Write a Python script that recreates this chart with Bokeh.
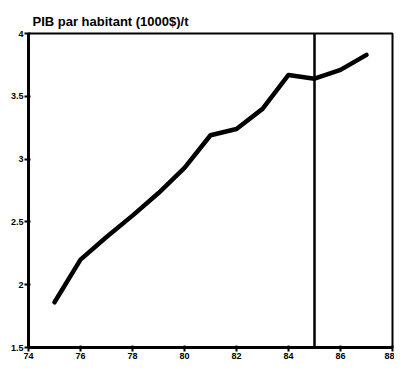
from bokeh.plotting import figure
from bokeh.models import Span, Range1d, FixedTicker
from bokeh.embed import file_html
from bokeh.resources import INLINE

years = [75, 76, 77, 78, 79, 80, 81, 82, 83, 84, 85, 86, 87]
pib = [1.86, 2.20, 2.38, 2.55, 2.73, 2.93, 3.19, 3.24, 3.40, 3.67, 3.64, 3.71, 3.83]
x_ticks = [74, 76, 78, 80, 82, 84, 86, 88]
y_ticks = [1.5, 2, 2.5, 3, 3.5, 4]
marker_year = 85
title_text = "PIB par habitant (1000$)/t"

p = figure(output_backend="svg", toolbar_location=None,
           frame_width=364, frame_height=314,
           x_range=Range1d(74, 88), y_range=Range1d(1.5, 4),
           min_border_left=28, min_border_right=2, min_border_top=33,
           min_border_bottom=14, title=title_text)

p.title.text_font = "Liberation Sans"
p.title.text_font_size = "13px"
p.title.text_font_style = "bold"
p.title.text_color = "black"
p.title.offset = 4
p.title.standoff = 10

p.line(years, pib, line_width=4.5, line_color="black", line_join="round", line_cap="round")
p.add_layout(Span(location=marker_year, dimension="height", line_color="black", line_width=2.5))

p.grid.visible = False
p.outline_line_color = "black"
p.outline_line_width = 2
p.background_fill_color = "white"
p.border_fill_color = "white"

p.xaxis.ticker = FixedTicker(ticks=x_ticks)
p.yaxis.ticker = FixedTicker(ticks=y_ticks)
p.xaxis.major_label_overrides = {t: str(t) for t in x_ticks}
p.yaxis.major_label_overrides = {1.5: "1.5", 2: "2", 2.5: "2.5", 3: "3", 3.5: "3.5", 4: "4"}
for ax in (p.xaxis[0], p.yaxis[0]):
    ax.axis_line_width = 3
    ax.axis_line_color = "black"
    ax.major_tick_line_width = 2
    ax.major_tick_line_color = "black"
    ax.major_tick_in = 2
    ax.major_tick_out = 4
    ax.minor_tick_line_color = None
    ax.major_label_text_font = "Liberation Sans"
    ax.major_label_text_font_size = "9px"
    ax.major_label_text_font_style = "bold"
    ax.major_label_text_color = "black"
    ax.major_label_standoff = 1

open("out.html", "w").write(file_html(p, INLINE))
